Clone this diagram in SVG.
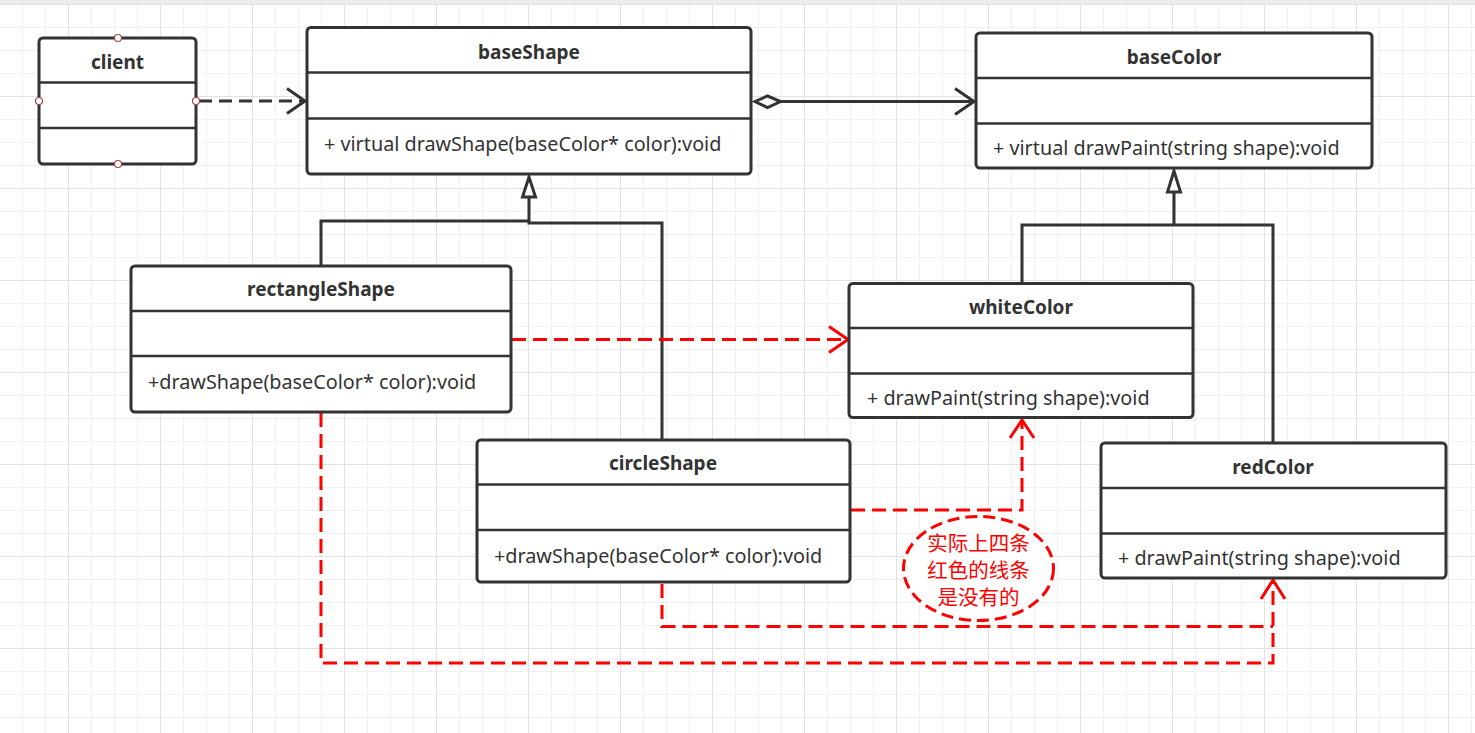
<svg xmlns="http://www.w3.org/2000/svg" width="1475" height="733" viewBox="0 0 1475 733">
  <defs>
    <!-- canvas grid: minor every 23px, major every 4 cells -->
    <pattern id="grid" patternUnits="userSpaceOnUse" x="68" y="4" width="92" height="92">
      <rect x="0" y="0" width="92" height="92" fill="#ffffff"/>
      <rect x="23" y="0" width="1" height="92" fill="#f0f0f0"/>
      <rect x="46" y="0" width="1" height="92" fill="#f0f0f0"/>
      <rect x="69" y="0" width="1" height="92" fill="#f0f0f0"/>
      <rect x="0" y="23" width="92" height="1" fill="#f0f0f0"/>
      <rect x="0" y="46" width="92" height="1" fill="#f0f0f0"/>
      <rect x="0" y="69" width="92" height="1" fill="#f0f0f0"/>
      <rect x="0" y="0" width="1" height="92" fill="#e2e2e2"/>
      <rect x="0" y="0" width="92" height="1" fill="#e2e2e2"/>
    </pattern>
    <style>
      .box { fill: #ffffff; stroke: #333333; stroke-width: 3; }
      .sep { stroke: #333333; stroke-width: 2.5; }
      .title { font-family: "Noto Sans", "Open Sans", sans-serif; font-weight: bold; font-size: 19px; fill: #333333; text-anchor: middle; dominant-baseline: central; }
      .op { font-family: "Noto Sans", "Open Sans", sans-serif; font-size: 19.8px; fill: #333333; dominant-baseline: central; }
      .solid { fill: none; stroke: #333333; stroke-width: 3; }
      .dash { fill: none; stroke: #333333; stroke-width: 3; stroke-dasharray: 13 7; }
      .red { fill: none; stroke: #ff0000; stroke-width: 3; stroke-dasharray: 14 7; }
      .redhead { fill: none; stroke: #ff0000; stroke-width: 3; }
      .tri { fill: #ffffff; stroke: #333333; stroke-width: 3; stroke-linejoin: miter; }
      .port { fill: #ffffff; stroke: #a04848; stroke-width: 1.2; }
      .note { font-family: "Noto Sans CJK SC", "Noto Sans", sans-serif; font-size: 20.5px; fill: #ff0000; text-anchor: middle; dominant-baseline: central; }
    </style>
  </defs>

  <rect x="0" y="0" width="1475" height="733" fill="url(#grid)"/>
  <rect x="0" y="0" width="1475" height="4" fill="#ececec"/>

  <!-- connectors -->
  <g id="connectors">
    <!-- client ..> baseShape -->
    <path class="dash" d="M199 101 H304"/>
    <path class="solid" d="M287 88.5 L305 101 L287 113.5"/>

    <!-- baseShape <>-> baseColor -->
    <path class="solid" d="M781 101.5 H973"/>
    <path class="solid" d="M755 101.5 L767.5 96 L780.5 101.5 L767.5 107.5 Z" style="fill:#ffffff"/>
    <path class="solid" d="M955 88.5 L974 101.5 L955 114.5"/>

    <!-- generalisation to baseShape -->
    <path class="solid" d="M321 266 V221 H529"/>
    <path class="solid" d="M662 440 V223 H529 V197"/>
    <path class="tri" d="M529 177 L522.5 197 L535.5 197 Z"/>

    <!-- generalisation to baseColor -->
    <path class="solid" d="M1022 283 V225 H1273 V443"/>
    <path class="solid" d="M1174 225 V192"/>
    <path class="tri" d="M1174 171 L1167.5 192 L1180.5 192 Z"/>

    <!-- rectangleShape -> whiteColor -->
    <path class="red" d="M512 339.5 H845"/>
    <path class="redhead" d="M829 326.5 L848 339.5 L829 352.5"/>

    <!-- circleShape -> whiteColor -->
    <path class="red" d="M851 510 H1022 V423"/>
    <path class="redhead" d="M1010 438 L1022 420 L1034 438"/>

    <!-- circleShape -> redColor -->
    <path class="red" d="M662 584 V626.5 H1273"/>
    <!-- rectangleShape -> redColor -->
    <path class="red" d="M321 413 V663 H1273 V583"/>
    <path class="redhead" d="M1261 599 L1273 580 L1285 599"/>
  </g>

  <!-- note -->
  <g id="note">
    <ellipse cx="978.5" cy="568.5" rx="75" ry="52" fill="#ffffff" stroke="#ff0000" stroke-width="3" stroke-dasharray="12 6"/>
    <text class="note" x="978.5" y="542">实际上四条</text>
    <text class="note" x="978.5" y="569">红色的线条</text>
    <text class="note" x="978.5" y="596">是没有的</text>
  </g>

  <g id="client">
    <rect class="box" x="39" y="38" width="157" height="126" rx="4"/>
    <line class="sep" x1="39" y1="82.5" x2="196" y2="82.5"/>
    <line class="sep" x1="39" y1="128" x2="196" y2="128"/>
    <text class="title" x="117.5" y="61.5">client</text>
    <circle class="port" cx="118" cy="38" r="3.5"/>
    <circle class="port" cx="39" cy="101" r="3.5"/>
    <circle class="port" cx="196" cy="101" r="3.5"/>
    <circle class="port" cx="118" cy="164" r="3.5"/>
  </g>

  <g id="baseShape">
    <rect class="box" x="307" y="27.5" width="444" height="146.5" rx="4"/>
    <line class="sep" x1="307" y1="72.5" x2="751" y2="72.5"/>
    <line class="sep" x1="307" y1="118.5" x2="751" y2="118.5"/>
    <text class="title" x="529" y="52">baseShape</text>
    <text class="op" x="324" y="143">+ virtual drawShape(baseColor* color):void</text>
  </g>

  <g id="baseColor">
    <rect class="box" x="976" y="33" width="396" height="135" rx="4"/>
    <line class="sep" x1="976" y1="78" x2="1372" y2="78"/>
    <line class="sep" x1="976" y1="123.5" x2="1372" y2="123.5"/>
    <text class="title" x="1174" y="57">baseColor</text>
    <text class="op" x="993" y="147">+ virtual drawPaint(string shape):void</text>
  </g>

  <g id="rectangleShape">
    <rect class="box" x="131" y="266" width="380" height="146" rx="4"/>
    <line class="sep" x1="131" y1="311" x2="511" y2="311"/>
    <line class="sep" x1="131" y1="356" x2="511" y2="356"/>
    <text class="title" x="321" y="289">rectangleShape</text>
    <text class="op" x="148" y="381">+drawShape(baseColor* color):void</text>
  </g>

  <g id="whiteColor">
    <rect class="box" x="849" y="283.5" width="344" height="134" rx="4"/>
    <line class="sep" x1="849" y1="328" x2="1193" y2="328"/>
    <line class="sep" x1="849" y1="373.5" x2="1193" y2="373.5"/>
    <text class="title" x="1021" y="307">whiteColor</text>
    <text class="op" x="867" y="397">+ drawPaint(string shape):void</text>
  </g>

  <g id="circleShape">
    <rect class="box" x="477" y="440" width="373" height="142" rx="4"/>
    <line class="sep" x1="477" y1="484.5" x2="850" y2="484.5"/>
    <line class="sep" x1="477" y1="530" x2="850" y2="530"/>
    <text class="title" x="663" y="463">circleShape</text>
    <text class="op" x="494" y="555">+drawShape(baseColor* color):void</text>
  </g>

  <g id="redColor">
    <rect class="box" x="1101" y="443" width="345" height="135" rx="4"/>
    <line class="sep" x1="1101" y1="488" x2="1446" y2="488"/>
    <line class="sep" x1="1101" y1="533.5" x2="1446" y2="533.5"/>
    <text class="title" x="1273" y="467">redColor</text>
    <text class="op" x="1118" y="557">+ drawPaint(string shape):void</text>
  </g>
</svg>
